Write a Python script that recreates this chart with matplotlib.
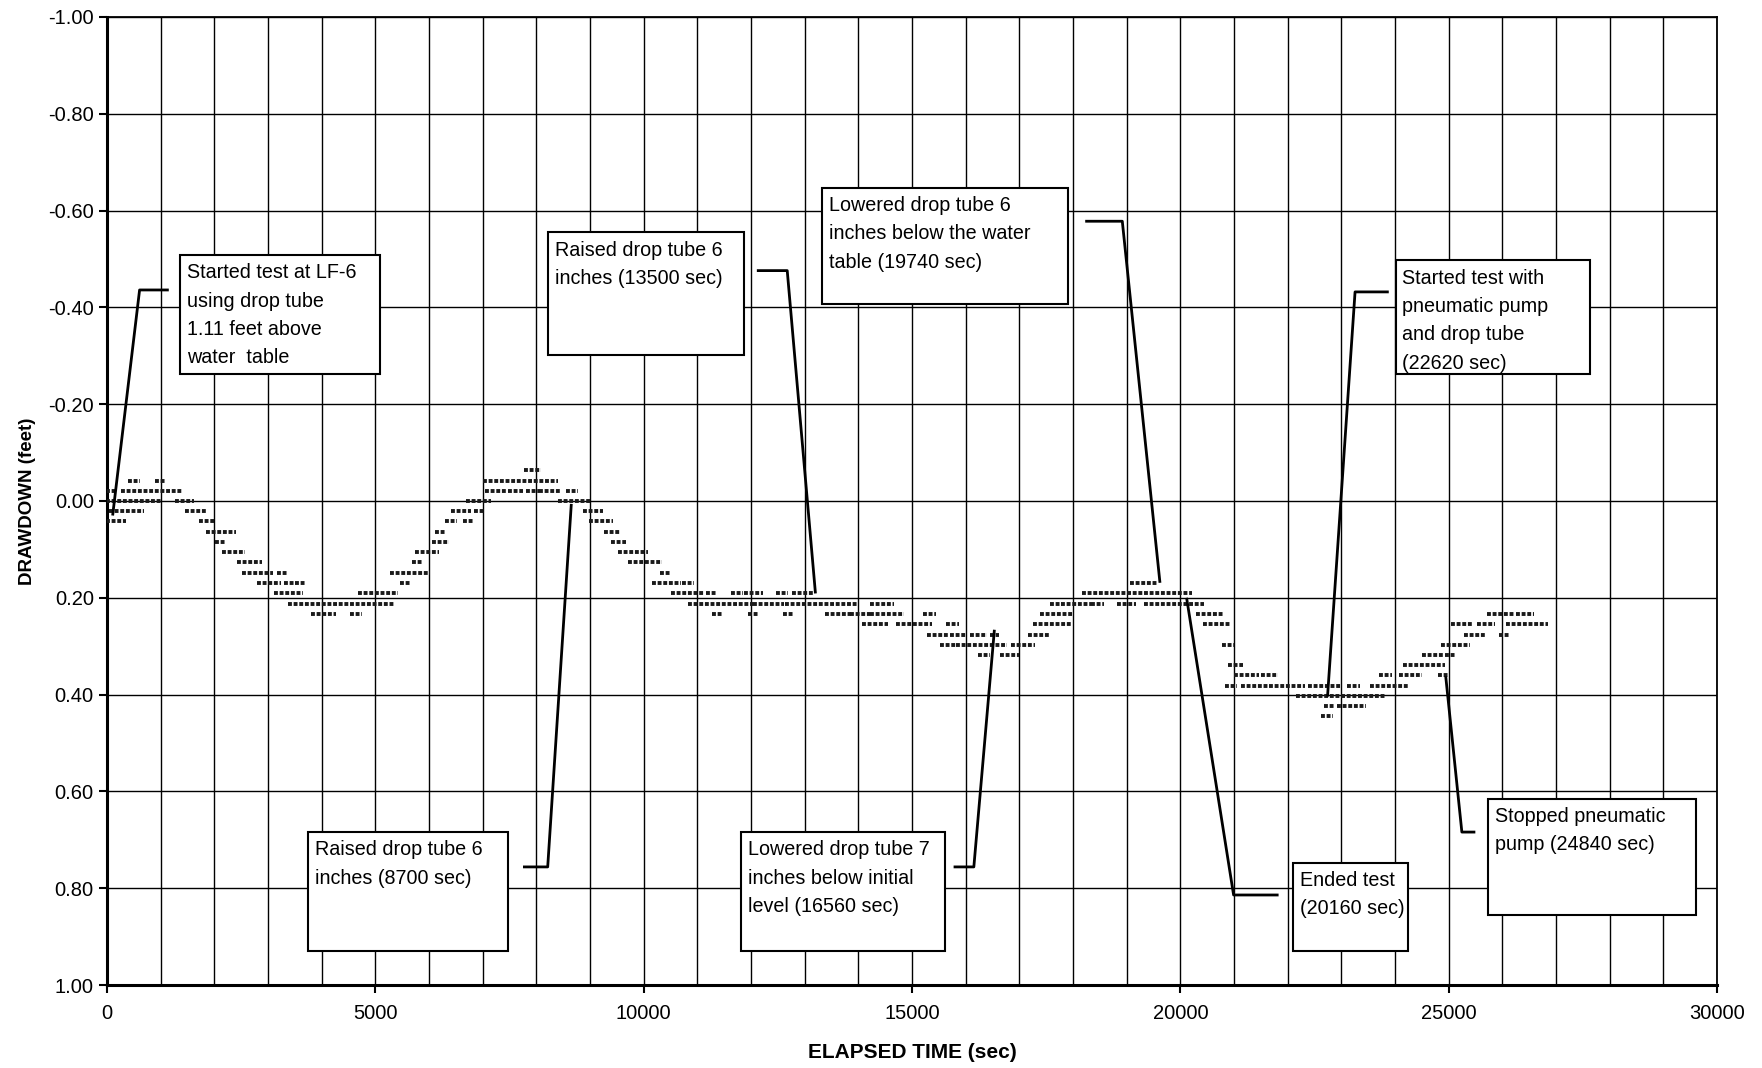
import matplotlib.pyplot as plt
from matplotlib.patches import Rectangle
from matplotlib.ticker import MultipleLocator, FormatStrFormatter

plt.rcParams['font.family'] = ['Liberation Sans', 'DejaVu Sans']

# drawdown readings, as runs of equal readings:
# run start (sec), run end (sec), drawdown (feet)
run_start = [0, 290, 420, 920, 0, 850, 1290, 60, 1470, 0, 1745, 1870, 2040, 2170,
             2445, 2550, 3190, 2820, 3315, 3530, 3130, 3405, 3830, 4555, 4700,
             5490, 5300, 5700, 5765, 6080, 6140, 6315, 6665, 6435, 6870, 6720,
             7070, 7505, 7830, 8080, 8575, 7040, 7800, 8420, 8890, 9005, 9290,
             9415, 9540, 9740, 10330, 10185, 10745, 10540, 11180, 11655, 11900,
             12500, 12780, 10855, 12070, 12655, 11290, 11970, 12625, 13400, 13866,
             14250, 14238, 14085, 14735, 15230, 15665, 15295, 15730, 16100, 16470,
             15540, 15850, 16875, 16255, 16660, 17185, 17280, 17405, 17590, 17805,
             18365, 18850, 19345, 18195, 19080, 20320, 20630, 20445, 20800, 20915,
             21025, 21520, 20850, 21160, 21685, 22410, 23130, 23550, 22185, 22710,
             22945, 22650, 23735, 24105, 24830, 24170, 24525, 24955, 24880, 25305,
             25970, 25070, 25555, 26095, 25740, 26280]
run_end = [120, 1390, 600, 1060, 800, 990, 1600, 660, 1840, 335, 1970, 2380, 2200, 2550,
           2860, 3070, 3345, 3220, 3455, 3690, 3625, 5345, 4245, 4720, 5395,
           5640, 5985, 5860, 6170, 6355, 6275, 6490, 6815, 6760, 7015, 7130,
           7410, 7720, 8020, 8420, 8745, 8375, 8060, 9000, 9210, 9400, 9530,
           9645, 10050, 10310, 10480, 10670, 10905, 11100, 11330, 11830, 12190,
           12660, 13150, 12005, 12595, 13965, 11445, 12130, 12780, 13835, 14200,
           14830, 14640, 14520, 15355, 15415, 15850, 15660, 15975, 16380, 16600,
           15790, 16750, 17275, 16430, 16970, 17525, 17930, 17990, 17775, 18305,
           18550, 19140, 20415, 20195, 19560, 20600, 20790, 20910, 20980, 21150,
           21435, 21790, 21035, 21625, 22305, 22990, 23320, 24230, 23795, 22865,
           23425, 22825, 23920, 24480, 24975, 24915, 24885, 25100, 25365, 25660,
           26125, 25410, 25845, 26820, 26185, 26570]
run_level = [-0.021, -0.021, -0.042, -0.042, 0.0, 0.0, 0.0, 0.021, 0.021, 0.042, 0.042,
             0.064, 0.085, 0.106, 0.127, 0.149, 0.149, 0.170, 0.170, 0.170, 0.191,
             0.212, 0.233, 0.233, 0.191, 0.170, 0.149, 0.127, 0.106, 0.085, 0.064,
             0.042, 0.042, 0.021, 0.021, 0.0, -0.021, -0.021, -0.021, -0.021, -0.021,
             -0.042, -0.064, 0.0, 0.021, 0.042, 0.064, 0.085, 0.106, 0.127, 0.149,
             0.170, 0.170, 0.191, 0.191, 0.191, 0.191, 0.191, 0.191, 0.212, 0.212,
             0.212, 0.233, 0.233, 0.233, 0.233, 0.233, 0.233, 0.212, 0.254, 0.254,
             0.233, 0.254, 0.276, 0.276, 0.276, 0.276, 0.297, 0.297, 0.297, 0.318,
             0.318, 0.276, 0.254, 0.233, 0.212, 0.212, 0.212, 0.212, 0.212, 0.191,
             0.170, 0.233, 0.233, 0.254, 0.297, 0.339, 0.360, 0.360, 0.382, 0.382,
             0.382, 0.382, 0.382, 0.382, 0.403, 0.424, 0.424, 0.445, 0.360, 0.360,
             0.360, 0.339, 0.318, 0.318, 0.297, 0.276, 0.276, 0.254, 0.254, 0.254,
             0.233, 0.233]

# callouts: text, box (t left, t right, top, bottom), leader path
notes = [
    "Started test at LF-6\nusing drop tube\n1.11 feet above\nwater  table",
    "Raised drop tube 6\ninches (13500 sec)",
    "Lowered drop tube 6\ninches below the water\ntable (19740 sec)",
    "Started test with\npneumatic pump\nand drop tube\n(22620 sec)",
    "Raised drop tube 6\ninches (8700 sec)",
    "Lowered drop tube 7\ninches below initial\nlevel (16560 sec)",
    "Ended test\n(20160 sec)",
    "Stopped pneumatic\npump (24840 sec)",
]
boxes = [
    (1362, 5090, -0.508, -0.262),
    (8212, 11878, -0.555, -0.302),
    (13324, 17912, -0.647, -0.406),
    (24009, 27633, -0.497, -0.262),
    (3750, 7479, 0.684, 0.930),
    (11816, 15608, 0.684, 0.930),
    (22102, 24239, 0.747, 0.930),
    (25727, 29603, 0.615, 0.856),
]
leaders = [
    ([1152, 608, 106], [-0.436, -0.436, 0.03]),
    ([12109, 12675, 13201], [-0.476, -0.476, 0.191]),
    ([18227, 18918, 19620], [-0.578, -0.578, 0.169]),
    ([23883, 23255, 22742], [-0.432, -0.432, 0.404]),
    ([7752, 8212, 8652], [0.756, 0.756, 0.006]),
    ([15775, 16152, 16535], [0.756, 0.756, 0.266]),
    ([21830, 20992, 20116], [0.814, 0.814, 0.20]),
    ([25496, 25245, 24944], [0.684, 0.684, 0.362]),
]

fig = plt.figure(figsize=(17.62, 10.68), dpi=100)
ax = fig.add_axes([0.0607, 0.0777, 0.9138, 0.9064])

ax.set_xlim(0, 30000)
ax.set_ylim(1.0, -1.0)

ax.xaxis.set_major_locator(MultipleLocator(5000))
ax.xaxis.set_minor_locator(MultipleLocator(1000))
ax.yaxis.set_major_locator(MultipleLocator(0.2))
ax.yaxis.set_major_formatter(FormatStrFormatter('%.2f'))
ax.grid(True, which='both', axis='x', color='black', lw=1.0)
ax.grid(True, which='major', axis='y', color='black', lw=1.0)
ax.set_axisbelow(True)
ax.tick_params(axis='both', which='major', labelsize=14.5, length=6, width=1.5, direction='out')
ax.tick_params(axis='x', which='minor', length=0)
ax.tick_params(axis='x', which='major', pad=8)
for side in ['left', 'bottom']:
    ax.spines[side].set_linewidth(2.2)
for side in ['top', 'right']:
    ax.spines[side].set_linewidth(1.3)

# data rows of identical readings
ax.hlines(run_level, [s - 25 for s in run_start], [e + 25 for e in run_end],
          colors='#1a1a1a', lw=2.8, linestyles=[(0, (1.0, 0.45))], zorder=3)

for text, (t0, t1, vt, vb), (lx, ly) in zip(notes, boxes, leaders):
    ax.plot(lx, ly, color='black', lw=2.0, zorder=4, solid_capstyle='butt')
    ax.add_patch(Rectangle((t0, vt), t1 - t0, vb - vt, facecolor='white',
                           edgecolor='black', lw=1.5, zorder=5))
    ax.annotate(text, xy=(t0, vt), xytext=(5, -6), textcoords='offset points',
                ha='left', va='top', fontsize=14.2, linespacing=1.62, zorder=6)

ax.set_xlabel("ELAPSED TIME (sec)", fontsize=15, fontweight='bold', labelpad=14)
ax.set_ylabel("DRAWDOWN (feet)", fontsize=13.5, fontweight='bold', labelpad=9)

fig.savefig("out.png", dpi=100)
